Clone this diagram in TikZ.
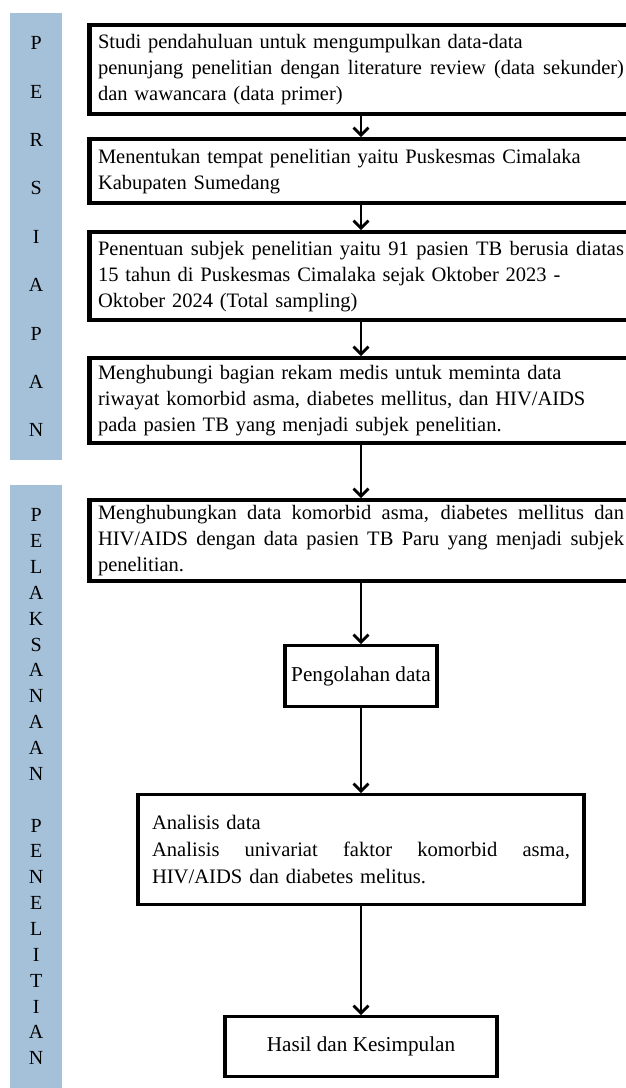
\documentclass[tikz,border=0pt]{standalone}
\usepackage{fontspec}
\setmainfont{Liberation Serif}
\usetikzlibrary{arrows.meta}
\definecolor{barblue}{RGB}{165,193,217}
\newcommand\jline[2]{\leavevmode\hbox to #1{\spaceskip=0.25em plus 1fil\relax #2}}
\begin{document}
\begin{tikzpicture}[x=1pt,y=-1pt,
  bar/.style={fill=barblue, draw=none, minimum width=52pt, inner sep=0pt, anchor=north west, align=center},
  wbox/.style={draw, line width=3.4pt, anchor=north, inner xsep=9pt, inner ysep=0pt, text width=526pt, align=left, font=\fontsize{20.5}{26}\selectfont},
  cbox/.style={draw, line width=3.4pt, anchor=north, inner sep=0pt, align=center, font=\fontsize{21.2}{26}\selectfont},
  flow/.style={line width=2.8pt, -{Straight Barb[length=7.5pt,width=15pt]}},
  inner/.style={line width=1pt}
]
\useasboundingbox (0,0) rectangle (625,1088);
% side bars
\node[bar, minimum height=447pt, font=\fontsize{20}{48.4}\selectfont] (bar1) at (10,13) {P\\E\\R\\S\\I\\A\\P\\A\\N};
\node[bar, minimum height=603pt, font=\fontsize{20}{25.86}\selectfont] (bar2) at (10,485)
  {P\\E\\L\\A\\K\\S\\A\\N\\A\\A\\N\\\mbox{}\\P\\E\\N\\E\\L\\I\\T\\I\\A\\N};
% boxes
\node[wbox, minimum height=90pt] (b1) at (361,23)
  {Studi pendahuluan untuk mengumpulkan data-data\\\jline{526pt}{penunjang penelitian dengan literature review (data sekunder)}\\dan wawancara (data primer)};
\node[wbox, minimum height=65pt] (b2) at (361,137)
  {Menentukan tempat penelitian yaitu Puskesmas Cimalaka\\Kabupaten Sumedang};
\node[wbox, minimum height=89pt] (b3) at (361,230)
  {\jline{526pt}{Penentuan subjek penelitian yaitu 91 pasien TB berusia diatas}\\15 tahun di Puskesmas Cimalaka sejak Oktober 2023 -\\Oktober 2024 (Total sampling)};
\node[wbox, minimum height=86pt] (b4) at (361,356)
  {Menghubungi bagian rekam medis untuk meminta data\\riwayat komorbid asma, diabetes mellitus, dan HIV/AIDS\\pada pasien TB yang menjadi subjek penelitian.};
\node[wbox, minimum height=82pt] (b5) at (361,498)
  {\jline{526pt}{Menghubungkan data komorbid asma, diabetes mellitus dan}\\\jline{526pt}{HIV/AIDS dengan data pasien TB Paru yang menjadi subjek}\\penelitian.};
\node[cbox, minimum width=152pt, minimum height=61pt] (b6) at (361,644) {Pengolahan data};
\node[wbox, text width=418pt, inner xsep=14pt, minimum height=110pt, font=\fontsize{20.6}{27}\selectfont] (b7) at (361,793)
  {Analisis data\\\jline{418pt}{Analisis univariat faktor komorbid asma,}\\HIV/AIDS dan diabetes melitus.};
\node[cbox, minimum width=272pt, minimum height=60pt] (b8) at (361,1015) {Hasil dan Kesimpulan};
% inner thin lines of the double-bordered boxes
\foreach \b in {b1,b2,b3,b4,b5}
  \draw[inner] ([shift={(3.8,3.8)}]\b.north west) rectangle ([shift={(-3.8,-3.8)}]\b.south east);
% connectors
\draw[flow] (b1.south) -- (b2.north);
\draw[flow] (b2.south) -- (b3.north);
\draw[flow] (b3.south) -- (b4.north);
\draw[flow] (b4.south) -- (b5.north);
\draw[flow] (b5.south) -- (b6.north);
\draw[flow] (b6.south) -- (b7.north);
\draw[flow] (b7.south) -- (b8.north);
\end{tikzpicture}
\end{document}
